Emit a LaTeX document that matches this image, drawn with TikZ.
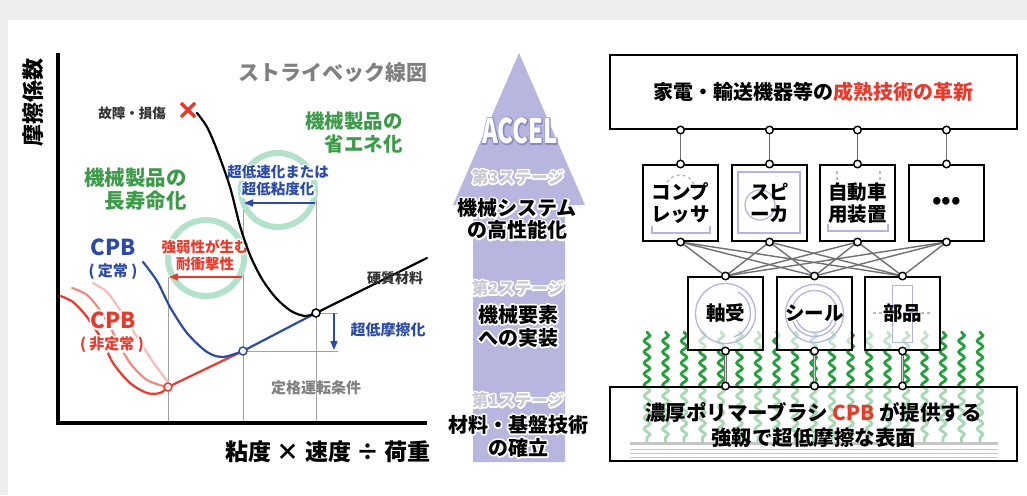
\documentclass[tikz,border=0pt]{standalone}
\usepackage{fontspec}
\setmainfont{Noto Sans CJK JP}
\usetikzlibrary{arrows.meta,decorations.pathmorphing}

\definecolor{bggray}{HTML}{EEEEEE}
\definecolor{cpbblue}{HTML}{2B4BA6}
\definecolor{cpbred}{HTML}{E83A2C}
\definecolor{pinkmid}{HTML}{F08A80}
\definecolor{pinklight}{HTML}{F7BDB5}
\definecolor{txtgreen}{HTML}{3C9A48}
\definecolor{ringgreen}{HTML}{B3E2CB}
\definecolor{lav}{HTML}{B6B6DE}
\definecolor{stagegray}{HTML}{CACAD4}
\definecolor{icon}{HTML}{B4B4E4}
\definecolor{chaingreen}{HTML}{22A03C}
\definecolor{guidegray}{HTML}{A0A0A0}
\definecolor{linkgray}{HTML}{707070}
\definecolor{darktext}{HTML}{333333}

\newcommand\fs[2]{\fontsize{#1}{#2}\selectfont}
% text with a stroked halo behind it: [stroke rgb]{stroke width}{text}
\newcommand\halo[3][1 1 1]{%
  \makebox[0pt][l]{\special{pdf:literal direct 1 Tr #2 w 1 j 1 J #1 RG}#3\special{pdf:literal direct 0 Tr}}#3}

\begin{document}
\begin{tikzpicture}[x=1pt,y=-1pt,
  lbl/.style={inner sep=0,align=center},
  guide/.style={draw=guidegray,line width=1},
  ring/.style={draw=ringgreen,line width=6},
  curve/.style={line width=2.2,line join=round,line cap=round},
  dot/.style={circle,fill=white,line width=1.5,minimum size=8,inner sep=0},
  box/.style={draw=black,line width=2,minimum width=75,minimum height=76,inner sep=0,
    align=center,font=\bfseries\fs{19.5}{22}},
  wide/.style={draw=black,line width=2,minimum width=407,minimum height=74,inner sep=0,align=center},
  port/.style={circle,draw=black,fill=white,line width=1.4,minimum size=7.5,inner sep=0},
  link/.style={draw=linkgray,line width=1.4},
  post/.style={draw=linkgray,double=gray!30,double distance=1.3,line width=1},
  iconline/.style={draw=icon,line width=1.3},
  chain/.style={draw=chaingreen,line width=2.8,line cap=round,
    decorate,decoration={snake,segment length=11,amplitude=2.8}}
]
\useasboundingbox (0,0) rectangle (1027,495);
\fill[bggray] (0,0) rectangle (1027,495);
\fill[white] (8,20) rectangle (1027,495);

%% ---------------- Stribeck diagram ----------------
% guide lines
\draw[guide] (168,277) -- (168,423);
\draw[guide] (243,200) -- (243,423);
\draw[guide] (316,200) -- (316,423);
\draw[guide] (316,313) -- (338,313);
\draw[guide] (243,351) -- (338,351);

% rings
\draw[ring] (206,258) circle (38);
\draw[ring] (278,190) circle (37);

% labels over rings
\node[lbl,text=cpbblue,font=\bfseries\fs{14.5}{17}] (shortlbl) at (278,181)
  {\halo{3.5}{超低速化または}\\\halo{3.5}{超低粘度化}};
\node[lbl,text=cpbred,font=\bfseries\fs{14.5}{17}] (tough) at (205,255)
  {\halo{3.5}{強弱性が生む}\\\halo{3.5}{耐衝撃性}};

% arrows
\draw[cpbblue,line width=1.6,-{Triangle[length=9,width=7]}] (315,203) -- (244,203);
\draw[cpbred,line width=1.6,-{Triangle[length=9,width=7]}] (242,277) -- (169,277);
\draw[cpbblue,line width=1.6,-{Triangle[length=9,width=7]}] (334,313) -- (334,350);

% pink (non-steady) curves
\draw[curve,pinklight] plot[smooth] coordinates {(93,283) (107,292) (120,310) (137,337) (153,362) (168,382)};
\draw[curve,pinkmid] plot[smooth] coordinates {(72,288) (87,295) (102,313) (117,340) (130,363) (147,380) (167,387)};
\draw[curve,cpbred] plot[smooth] coordinates {(58,295) (73,302) (87,317) (102,340) (113,363) (130,383) (147,393) (160,393) (168,387)};
\draw[curve,cpbred] (168,387) -- (243,351);
% steady CPB curve
\draw[curve,cpbblue] plot[smooth] coordinates {(143,262) (157,281) (170,307) (187,333) (207,352) (223,357) (243,351)};
\draw[curve,cpbblue] (243,351) -- (316,313);
% hard material curve
\draw[curve,black] plot[smooth] coordinates {(197,113) (207,127) (217,150) (230,187) (240,226) (250,255) (262,279) (276,298) (291,311) (305,316) (316,313)};
\draw[curve,black] (316,313) -- (427,258);

\node[dot,draw=black] (hardpt) at (316,313) {};
\node[dot,draw=cpbblue] (steadypt) at (243,351) {};
\node[dot,draw=cpbred] (unsteadypt) at (168,387) {};

% failure mark
\draw[cpbred,line width=3.5] (181,103) -- (195,117) (195,103) -- (181,117);
\node[lbl,text=darktext,font=\bfseries\fs{13.5}{16}] (fail) at (132,113) {故障・損傷};

% axes
\draw[line width=3.5] (58,53) -- (58,423) -- (427,423);
\node[lbl,rotate=90,font=\bfseries\fs{22}{24}] (ylab) at (33,102) {摩擦係数};
\node[lbl,font=\bfseries\fs{23}{26}] (xlab) at (328,452) {粘度 × 速度 ÷ 荷重};

% texts
\node[lbl,text=gray,font=\bfseries\fs{21}{24}] (title) at (333,73) {ストライベック線図};
\node[lbl,align=right,anchor=east,text=txtgreen,font=\bfseries\fs{20.5}{23}] (life) at (187,189) {機械製品の\\長寿命化};
\node[lbl,align=right,anchor=east,text=txtgreen,font=\bfseries\fs{19.5}{23}] (save) at (403,133) {機械製品の\\省エネ化};
\node[lbl,text=darktext,font=\bfseries\fs{14}{16}] (hardlbl) at (395,278) {硬質材料};
\node[lbl,text=cpbblue,font=\bfseries\fs{15}{17}] (lowf) at (388,330) {超低摩擦化};
\node[lbl,text=gray,font=\bfseries\fs{15}{17}] (rated) at (316,388) {定格運転条件};
\node[lbl,text=cpbblue,font=\bfseries\fs{22}{24}] (cpbs) at (113,247) {CPB};
\node[lbl,text=cpbblue,font=\bfseries\fs{15}{17}] (cpbs2) at (113,272) {( 定常 )};
\node[lbl,text=cpbred,font=\bfseries\fs{22}{24}] (cpbu) at (113,320) {\halo{4}{CPB}};
\node[lbl,text=cpbred,font=\bfseries\fs{15}{17}] (cpbu2) at (112,345) {\halo{4}{( 非定常 )}};

%% ---------------- ACCEL arrow ----------------
\fill[lav] (473,462) -- (473,205) -- (453,205) -- (519,53) -- (585,205) -- (565,205) -- (565,462) -- cycle;
\node[lbl,text=white,xscale=0.7,font=\bfseries\fs{34}{36}] (accel) at (520,131)
  {\halo[0.54 0.54 0.76]{2.6}{ACCEL}};
\node[lbl,text=stagegray,font=\bfseries\fs{16.5}{18}] (st3) at (518,177) {\halo{3}{第3ステージ}};
\node[lbl,font=\bfseries\fs{20}{22}] (sys3) at (517,219) {\halo{3.5}{機械システム}\\\halo{3.5}{の高性能化}};
\node[lbl,text=stagegray,font=\bfseries\fs{16.5}{18}] (st2) at (518,288) {\halo{3}{第2ステージ}};
\node[lbl,font=\bfseries\fs{20}{23}] (sys2) at (518,326) {\halo{3.5}{機械要素}\\\halo{3.5}{への実装}};
\node[lbl,text=stagegray,font=\bfseries\fs{16.5}{18}] (st1) at (518,400) {\halo{3}{第1ステージ}};
\node[lbl,font=\bfseries\fs{20}{23}] (sys1) at (518,436) {\halo{3.5}{材料・基盤技術}\\\halo{3.5}{の確立}};

%% ---------------- application hierarchy ----------------
% polymer brush chains
\foreach \cx in {647,665.5,...,981}{\draw[chain] (\cx,332) -- (\cx,443);}

% goal box
\node[wide,fill=white] (goal) at (813.5,92)
  {\bfseries\fs{20}{24}家電・輸送機器等の\textcolor{cpbred}{成熟技術の革新}};

% faint icons of the products
\draw[iconline,dashed] (695,190) arc[start angle=0,end angle=-180,radius=15];
\draw[iconline] (652,226) -- (652,233) -- (710,233) -- (710,226);
\draw[iconline] (738,172) rectangle (800,233);
\draw[iconline] (760,205) circle (15);
\draw[iconline,dashed] (837,171) -- (837,180) (880,171) -- (880,180);
\draw[iconline] (828,224) -- (828,231) -- (888,231) -- (888,224);

% product boxes
\node[box] (comp) at (680.5,203) {コンプ\\レッサ};
\node[box] (spk) at (769.5,203) {スピ\\ーカ};
\node[box] (auto) at (857.5,203) {自動車\\用装置};
\node[box,font=\bfseries\fs{24}{26}] (more) at (946.5,203) {•••};

% element boxes (translucent over the chains)
\node[box,minimum height=73,fill=white,fill opacity=0.72] (bear) at (725.5,313.5) {};
\node[box,minimum height=73,fill=white,fill opacity=0.72] (seal) at (814.5,313.5) {};
\node[box,minimum height=73,fill=white,fill opacity=0.72] (part) at (902.5,313.5) {};
\draw[iconline] (bear) circle (30);
\draw[iconline] (bear.center) ++(70:25) arc[start angle=70,end angle=-60,radius=25];
\draw[iconline] (seal) circle (29);
\draw[iconline] (seal.center) ++(20:23) arc[start angle=20,end angle=160,radius=23];
\draw[iconline] (seal.center) ++(20:19) arc[start angle=20,end angle=160,radius=19];
\draw[iconline] (seal.center) ++(200:23) arc[start angle=200,end angle=340,radius=23];
\draw[iconline] (part.center) ++(-10,-28) rectangle ++(20,57);
\draw[iconline,dashed] (873,313) -- (932,313);
\node[lbl,font=\bfseries\fs{19.5}{22}] (beart) at (bear) {軸受};
\node[lbl,font=\bfseries\fs{19.5}{22}] (sealt) at (seal) {シール};
\node[lbl,font=\bfseries\fs{19.5}{22}] (partt) at (part) {部品};

% surface box
\node[wide,fill=white,fill opacity=0.6] (surface) at (813.5,424) {};
\draw[gray!45,line width=3] (630,443) -- (998,443);
\foreach \ly in {449,453,457}{\draw[gray!45,line width=0.8] (630,\ly) -- (998,\ly);}
\node[lbl,font=\bfseries\fs{20.5}{25}] (surfacet) at (813.5,425.5)
  {濃厚ポリマーブラシ \textcolor{cpbred}{CPB} が提供する\\強靱で超低摩擦な表面};

% connectors
\foreach \u in {comp,spk,auto,more}{
  \draw[link] (goal.south -| \u.north) -- (\u.north);
  \foreach \v in {bear,seal,part}{\draw[link] (\u.south) -- (\v.north);}
}
\foreach \v in {bear,seal,part}{\draw[post] (\v.south) -- (surface.north -| \v.south);}

% ports
\foreach \u in {comp,spk,auto,more}{
  \node[port] (\u-up) at (goal.south -| \u.north) {};
  \node[port] (\u-in) at (\u.north) {};
  \node[port] (\u-out) at (\u.south) {};
}
\foreach \v in {bear,seal,part}{
  \node[port] (\v-in) at (\v.north) {};
  \node[port] (\v-out) at (\v.south) {};
  \node[port] (\v-base) at (surface.north -| \v.south) {};
}
\end{tikzpicture}
\end{document}
